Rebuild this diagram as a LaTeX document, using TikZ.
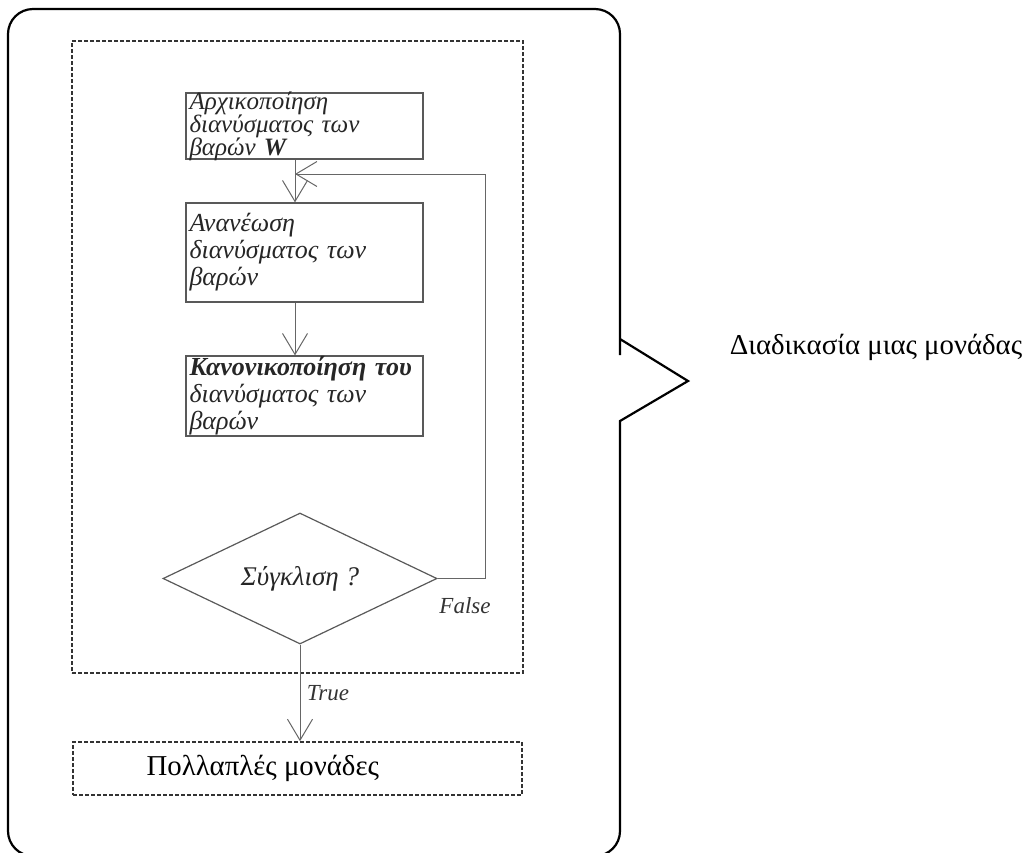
\documentclass[tikz,border=0pt]{standalone}
\usepackage{fontspec}
\setmainfont{Liberation Serif}
\usetikzlibrary{positioning,shapes.geometric,arrows.meta}
\tikzset{
  stepbox/.style={draw=black!65, line width=0.6pt, minimum width=118.5pt, text width=115pt,
    inner xsep=1.75pt, inner ysep=0pt, align=left, text=black!85,
    font=\fontsize{13}{13.5}\selectfont\itshape},
  decision/.style={diamond, aspect=2, draw=black!65, line width=0.6pt, minimum width=137pt,
    minimum height=65.5pt, inner sep=0pt, text=black!85, font=\fontsize{13.5}{14}\selectfont\itshape},
  unitbox/.style={draw=black!80, line width=0.8pt, dash pattern=on 2pt off 1pt},
  flow/.style={draw=black!60, line width=0.5pt, -{Straight Barb[length=10.5pt,width=12.5pt]}},
  edgelabel/.style={text=black!80, font=\fontsize{11.5}{12}\selectfont\itshape},
  biglabel/.style={inner sep=0pt, font=\fontsize{14.4}{16}\selectfont}
}
\begin{document}
\begin{tikzpicture}[x=0.5pt,y=-0.5pt]
\useasboundingbox (0,0) rectangle (1033,852);
\clip (0,0) rectangle (1033,852);

% callout
\draw[line width=1.1pt] (8,450) [rounded corners=12.5pt] -- (8,9) -- (620,9) -- (620,330)
  [sharp corners] -- (620,339) -- (688,381) -- (620,421) -- (620,430)
  [rounded corners=12.5pt] -- (620,856) -- (8,856) -- cycle;
\node[biglabel] (unitlabel) at (876,347) {Διαδικασία μιας μονάδας};

% one unit
\node[unitbox, minimum width=225.5pt, minimum height=316pt] (unit) at (297.5,357) {};
\node[stepbox, minimum height=33pt, inner ysep=-1.5pt,
  font=\fontsize{12.5}{11.5}\selectfont\itshape] (init) at (304.5,126) {Αρχικοποίηση\\διανύσματος των\\βαρών \textbf{W}};
\node[stepbox, minimum height=49.5pt] (update) at (304.5,252.5) {Ανανέωση\\διανύσματος των\\βαρών};
\node[stepbox, minimum height=40pt] (norm) at (304.5,396) {\textbf{Κανονικοποίηση του}\\διανύσματος των\\βαρών};
\node[decision] (conv) at (300,578.5) {Σύγκλιση ?};

% many units
\node[unitbox, minimum width=224.5pt, minimum height=26.5pt] (multi) at (297.5,768.5) {};
\node[biglabel, right=37pt of multi.west] (multitxt) {Πολλαπλές μονάδες};

% arrows
\coordinate (join) at (295,174);
\coordinate (back) at (485,174);
\draw[flow] ([xshift=-4.75pt]init.south) -- ([xshift=-4.75pt]update.north);
\draw[flow] ([xshift=-4.75pt]update.south) -- ([xshift=-4.75pt]norm.north);
\draw[flow] (conv.east) -| (back) -- (join);
\draw[flow] (conv.south) -- (conv.south |- multi.north);
\node[edgelabel] (false) at (465,606) {False};
\node[edgelabel] (true) at (328,693) {True};
\end{tikzpicture}
\end{document}
